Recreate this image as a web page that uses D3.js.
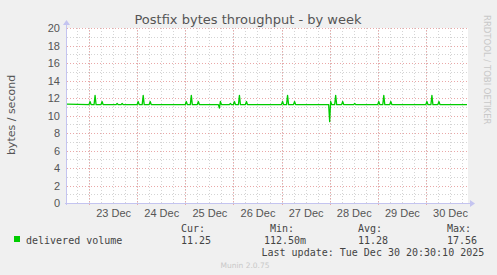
<!DOCTYPE html>
<meta charset="utf-8">
<style>
  body { margin: 0; background: #f0f0f0; }
  svg { display: block; font-family: "DejaVu Sans", sans-serif; }
  .tick text { fill: #555; font-size: 11px; }
  .grid line { shape-rendering: crispEdges; stroke-dasharray: 1,2; }
  .minor line { stroke: #d4d4d4; }
  .major line { stroke: #eaa8a8; }
  .mono { font-family: "DejaVu Sans Mono", monospace; font-size: 10px; fill: #444; }
</style>
<body>
<script src="https://d3js.org/d3.v7.min.js"></script>
<script>

  // delivered volume, bytes / second (breakpoints of the week graph)
  var times = [
    "2025-12-22T13:00", "2025-12-23T00:00", "2025-12-23T00:30", "2025-12-23T01:00",
    "2025-12-23T02:30", "2025-12-23T03:00", "2025-12-23T03:30", "2025-12-23T06:00",
    "2025-12-23T06:30", "2025-12-23T07:00", "2025-12-23T13:30", "2025-12-23T14:00",
    "2025-12-23T14:30", "2025-12-23T16:00", "2025-12-23T16:30", "2025-12-23T17:00",
    "2025-12-24T00:00", "2025-12-24T00:30", "2025-12-24T01:00", "2025-12-24T02:30",
    "2025-12-24T03:00", "2025-12-24T03:30", "2025-12-24T06:00", "2025-12-24T06:30",
    "2025-12-24T07:00", "2025-12-25T00:00", "2025-12-25T00:30", "2025-12-25T01:00",
    "2025-12-25T02:30", "2025-12-25T03:00", "2025-12-25T03:30", "2025-12-25T06:00",
    "2025-12-25T06:30", "2025-12-25T07:00", "2025-12-25T16:30", "2025-12-25T17:00",
    "2025-12-25T17:30", "2025-12-25T18:00", "2025-12-25T22:00", "2025-12-25T22:30",
    "2025-12-25T23:00", "2025-12-26T00:00", "2025-12-26T00:30", "2025-12-26T01:00",
    "2025-12-26T02:30", "2025-12-26T03:00", "2025-12-26T03:30", "2025-12-26T06:00",
    "2025-12-26T06:30", "2025-12-26T07:00", "2025-12-27T00:00", "2025-12-27T00:30",
    "2025-12-27T01:00", "2025-12-27T02:30", "2025-12-27T03:00", "2025-12-27T03:30",
    "2025-12-27T06:00", "2025-12-27T06:30", "2025-12-27T07:00", "2025-12-27T23:30",
    "2025-12-28T00:00", "2025-12-28T00:30", "2025-12-28T01:00", "2025-12-28T02:30",
    "2025-12-28T03:00", "2025-12-28T03:30", "2025-12-28T06:00", "2025-12-28T06:30",
    "2025-12-28T07:00", "2025-12-28T12:00", "2025-12-28T12:30", "2025-12-28T13:00",
    "2025-12-29T00:00", "2025-12-29T00:30", "2025-12-29T01:00", "2025-12-29T02:30",
    "2025-12-29T03:00", "2025-12-29T03:30", "2025-12-29T06:00", "2025-12-29T06:30",
    "2025-12-29T07:00", "2025-12-30T00:00", "2025-12-30T00:30", "2025-12-30T01:00",
    "2025-12-30T02:30", "2025-12-30T03:00", "2025-12-30T03:30", "2025-12-30T06:00",
    "2025-12-30T06:30", "2025-12-30T07:00", "2025-12-30T20:30"
  ];
  var volume = [
    11.3, 11.25, 11.6, 11.25,
    11.25, 12.3, 11.25, 11.25,
    11.6, 11.25, 11.25, 11.38,
    11.25, 11.25, 11.38, 11.25,
    11.25, 11.6, 11.25, 11.25,
    12.3, 11.25, 11.25, 11.6,
    11.25, 11.25, 11.6, 11.25,
    11.25, 12.3, 11.25, 11.25,
    11.6, 11.25, 11.25, 10.85,
    11.6, 11.25, 11.25, 11.38,
    11.25, 11.25, 11.6, 11.25,
    11.25, 12.3, 11.25, 11.25,
    11.6, 11.25, 11.25, 11.6,
    11.25, 11.25, 12.3, 11.25,
    11.25, 11.6, 11.25, 11.25,
    9.3, 11.6, 11.25, 11.25,
    12.3, 11.25, 11.25, 11.6,
    11.25, 11.25, 11.38, 11.25,
    11.25, 11.6, 11.25, 11.25,
    12.3, 11.25, 11.25, 11.6,
    11.25, 11.25, 11.6, 11.25,
    11.25, 12.3, 11.25, 11.25,
    11.6, 11.25, 11.25
  ];
  var dayLabels = ["23 Dec", "24 Dec", "25 Dec", "26 Dec", "27 Dec", "28 Dec", "29 Dec", "30 Dec"];
  var yTicks = [0, 2, 4, 6, 8, 10, 12, 14, 16, 18, 20];
  var legendStats = [["Cur:", "11.25"], ["Min:", "112.50m"], ["Avg:", "11.28"], ["Max:", "17.56"]];

  var width = 497,
    height = 275,
    margin = { top: 28, right: 29, bottom: 72, left: 67 };

  var parse = d3.timeParse("%Y-%m-%dT%H:%M");
  var data = times.map(function (t, i) { return { t: parse(t), v: volume[i] }; });

  var x = d3.scaleTime()
    .domain([parse("2025-12-22T13:00"), parse("2025-12-30T21:00")])
    .range([margin.left, width - margin.right]);

  var y = d3.scaleLinear()
    .domain([0, 20])
    .range([height - margin.bottom, margin.top]);

  var svg = d3.select("body").append("svg")
    .attr("width", width)
    .attr("height", height);

  svg.append("rect")
    .attr("x", margin.left)
    .attr("y", margin.top)
    .attr("width", x.range()[1] - margin.left)
    .attr("height", y.range()[0] - margin.top)
    .attr("fill", "#fff");

  var iw = x.range()[1] - margin.left,
    ih = y.range()[0] - margin.top;

  // minor grid
  svg.append("g").attr("class", "grid minor")
    .attr("transform", "translate(0," + y.range()[0] + ")")
    .call(d3.axisBottom(x).ticks(d3.timeHour.every(6)).tickSize(-ih).tickFormat(""))
    .call(function (g) { g.select(".domain").remove(); });
  svg.append("g").attr("class", "grid minor")
    .attr("transform", "translate(" + margin.left + ",0)")
    .call(d3.axisLeft(y).ticks(20).tickSize(-iw).tickFormat(""))
    .call(function (g) { g.select(".domain").remove(); });

  // major grid
  svg.append("g").attr("class", "grid major")
    .attr("transform", "translate(0," + (y.range()[0] + 2) + ")")
    .call(d3.axisBottom(x).ticks(d3.timeDay.every(1)).tickSize(-ih - 2).tickFormat(""))
    .call(function (g) { g.select(".domain").remove(); });
  svg.append("g").attr("class", "grid major")
    .attr("transform", "translate(" + margin.left + ",0)")
    .call(d3.axisLeft(y).tickValues(yTicks).tickSize(-iw).tickFormat(""))
    .call(function (g) { g.select(".domain").remove(); });

  // y tick labels
  svg.append("g")
    .attr("transform", "translate(" + margin.left + ",0)")
    .call(d3.axisLeft(y).tickValues(yTicks).tickSize(0).tickPadding(7))
    .call(function (g) { g.select(".domain").remove(); });

  // x labels at noon of each day
  var noons = dayLabels.map(function (d, i) { return d3.timeHour.offset(parse("2025-12-23T12:00"), 24 * i); });
  svg.append("g")
    .attr("transform", "translate(0," + y.range()[0] + ")")
    .call(d3.axisBottom(x).tickValues(noons).tickSize(0).tickPadding(6)
      .tickFormat(function (d, i) { return dayLabels[i]; }))
    .call(function (g) { g.select(".domain").remove(); });

  // axes lines with arrows
  var axisColor = "#c4c4f0";
  svg.append("line")
    .attr("x1", margin.left - 0.5).attr("x2", margin.left - 0.5)
    .attr("y1", y.range()[0] + 2).attr("y2", margin.top - 4)
    .attr("stroke", axisColor);
  svg.append("path")
    .attr("d", "M" + (margin.left - 4) + "," + (margin.top - 3) + "L" + (margin.left - 0.5) + "," + (margin.top - 8) + "L" + (margin.left + 3) + "," + (margin.top - 3) + "Z")
    .attr("fill", axisColor);
  svg.append("line")
    .attr("x1", margin.left - 2).attr("x2", x.range()[1] + 3)
    .attr("y1", y.range()[0] + 0.5).attr("y2", y.range()[0] + 0.5)
    .attr("stroke", axisColor);
  svg.append("path")
    .attr("d", "M" + (x.range()[1] + 2) + "," + (y.range()[0] - 3) + "L" + (x.range()[1] + 7) + "," + (y.range()[0] + 0.5) + "L" + (x.range()[1] + 2) + "," + (y.range()[0] + 4) + "Z")
    .attr("fill", axisColor);

  // series
  var line = d3.line()
    .x(function (d) { return x(d.t); })
    .y(function (d) { return y(d.v); });

  svg.append("path")
    .datum(data)
    .attr("fill", "none")
    .attr("stroke", "#00cc00")
    .attr("stroke-width", 1.3)
    .attr("stroke-linejoin", "round")
    .attr("d", line);

  // title and labels
  svg.append("text")
    .attr("x", 248).attr("y", 24)
    .attr("text-anchor", "middle")
    .attr("fill", "#555")
    .style("font-size", "13px")
    .text("Postfix bytes throughput - by week");

  svg.append("text")
    .attr("transform", "translate(15,115) rotate(-90)")
    .attr("text-anchor", "middle")
    .attr("fill", "#555")
    .style("font-size", "11px")
    .text("bytes / second");

  svg.append("text")
    .attr("transform", "translate(484,15) rotate(90)")
    .attr("fill", "#c8c8c8")
    .style("font-size", "8.5px")
    .text("RRDTOOL / TOBI OETIKER");

  // legend
  svg.append("rect")
    .attr("x", 14).attr("y", 236).attr("width", 6).attr("height", 6)
    .attr("fill", "#00cc00");
  svg.append("text").attr("class", "mono")
    .attr("x", 26).attr("y", 243.5)
    .text("delivered volume");

  var colX = [[181, 181], [270, 264], [358, 358], [447, 447]];
  legendStats.forEach(function (s, i) {
    svg.append("text").attr("class", "mono")
      .attr("x", colX[i][0]).attr("y", 231.5).text(s[0]);
    svg.append("text").attr("class", "mono")
      .attr("x", colX[i][1]).attr("y", 243.5).text(s[1]);
  });

  svg.append("text").attr("class", "mono")
    .attr("x", 261.5).attr("y", 255.5)
    .text("Last update: Tue Dec 30 20:30:10 2025");

  svg.append("text")
    .attr("x", 245).attr("y", 268)
    .attr("text-anchor", "middle")
    .attr("fill", "#c8c8c8")
    .style("font-size", "7.5px")
    .text("Munin 2.0.75");

</script>
